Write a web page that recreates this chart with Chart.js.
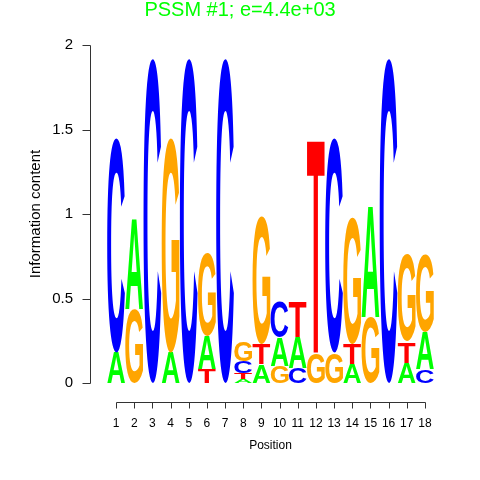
<!DOCTYPE html>
<html>
<head>
<meta charset="utf-8">
<title>PSSM #1 logo</title>
<script src="https://cdn.jsdelivr.net/npm/chart.js@4.4.0/dist/chart.umd.min.js"></script>
<style>
  html, body { margin: 0; padding: 0; background: #fff; }
  #wrap { width: 480px; height: 480px; }
</style>
</head>
<body>
<div id="wrap"><canvas id="logo" width="480" height="480"></canvas></div>
<script>
// --- data (information content per letter, bits) ---
const positions = ['1','2','3','4','5','6','7','8','9','10','11','12','13','14','15','16','17','18'];
const bitsA = [0.18, 0.54, 0, 0.18, 0, 0.20, 0, 0.025, 0.11, 0.17, 0.18, 0, 0, 0.115, 0.66, 0, 0.12, 0.22];
const bitsC = [1.27, 0, 1.92, 0, 1.92, 0, 1.92, 0.07, 0, 0.21, 0.09, 0, 1.27, 0, 0, 1.92, 0, 0.08];
const bitsG = [0, 0.44, 0, 1.27, 0, 0.49, 0, 0.115, 0.76, 0.10, 0, 0.18, 0.18, 0.745, 0.39, 0, 0.515, 0.46];
const bitsT = [0, 0, 0, 0, 0, 0.08, 0, 0.035, 0.12, 0, 0.21, 1.27, 0, 0.12, 0, 0, 0.125, 0];
const yTicks = [0, 0.5, 1, 1.5, 2];

const letterColor = { A: '#00ff00', C: '#0000ff', G: '#ffa500', T: '#ff0000' };

// each column is stacked smallest letter at the bottom
const columns = positions.map((_, i) =>
  [['A', bitsA[i]], ['C', bitsC[i]], ['G', bitsG[i]], ['T', bitsT[i]]]
    .filter(l => l[1] > 0)
    .sort((a, b) => a[1] - b[1])
);

// one stacked "layer" dataset per rank (bottom letter, second letter, ...)
const datasets = [0, 1, 2, 3].map(k => ({
  label: 'layer ' + (k + 1),
  data: columns.map(c => (c[k] ? c[k][1] : 0)),
  letters: columns.map(c => (c[k] ? c[k][0] : '')),
  backgroundColor: 'rgba(0,0,0,0)',
  borderWidth: 0
}));

// draws a glyph stretched to fill each bar box
const glyphs = {
  id: 'glyphs',
  afterDatasetsDraw(chart) {
    const ctx = chart.ctx;
    chart.data.datasets.forEach((ds, k) => {
      chart.getDatasetMeta(k).data.forEach((bar, i) => {
        const letter = ds.letters[i];
        const { x, y, base, width } = bar.getProps(['x', 'y', 'base', 'width'], true);
        const h = base - y;
        if (!letter || h < 0.5) return;
        ctx.save();
        ctx.font = 'bold 100px "Liberation Sans", Arial, sans-serif';
        ctx.textAlign = 'left';
        ctx.textBaseline = 'alphabetic';
        const m = ctx.measureText(letter);
        const gw = m.actualBoundingBoxLeft + m.actualBoundingBoxRight;
        const gh = m.actualBoundingBoxAscent + m.actualBoundingBoxDescent;
        const w = width * 0.98;
        ctx.translate(x - w / 2, y);
        ctx.scale(w / gw, h / gh);
        ctx.fillStyle = letterColor[letter];
        ctx.fillText(letter, m.actualBoundingBoxLeft, m.actualBoundingBoxAscent);
        ctx.restore();
      });
    });
  }
};

// R-style detached axes (lines + tick marks), placed from the chart scales
const rAxes = {
  id: 'rAxes',
  afterDraw(chart) {
    const { ctx, chartArea, scales: { x, y } } = chart;
    ctx.save();
    ctx.strokeStyle = '#333';
    ctx.lineWidth = 1;
    ctx.beginPath();
    const ax = chartArea.left - 17 + 0.5;
    ctx.moveTo(ax, Math.round(y.getPixelForValue(yTicks[0])) + 0.5);
    ctx.lineTo(ax, Math.round(y.getPixelForValue(yTicks[yTicks.length - 1])) + 0.5);
    yTicks.forEach(v => {
      const py = Math.round(y.getPixelForValue(v)) + 0.5;
      ctx.moveTo(ax, py);
      ctx.lineTo(ax - 8, py);
    });
    const ay = chartArea.bottom + 19 + 0.5;
    ctx.moveTo(Math.round(x.getPixelForValue(0)) + 0.5, ay);
    ctx.lineTo(Math.round(x.getPixelForValue(positions.length - 1)) + 0.5, ay);
    positions.forEach((_, i) => {
      const px = Math.round(x.getPixelForValue(i)) + 0.5;
      ctx.moveTo(px, ay);
      ctx.lineTo(px, ay + 6);
    });
    ctx.stroke();
    ctx.restore();
  }
};

Chart.defaults.font.family = '"Liberation Sans", Arial, Helvetica, sans-serif';
Chart.defaults.color = '#000';

new Chart(document.getElementById('logo'), {
  type: 'bar',
  data: { labels: positions, datasets },
  options: {
    responsive: false,
    animation: false,
    datasets: { bar: { barPercentage: 1, categoryPercentage: 1 } },
    plugins: {
      legend: { display: false },
      tooltip: { enabled: false },
      title: {
        display: true,
        text: 'PSSM #1; e=4.4e+03',
        color: '#00ff00',
        font: { size: 20, weight: 'normal', lineHeight: 1 },
        padding: { top: 0, bottom: 25 }
      }
    },
    scales: {
      x: {
        stacked: true,
        offset: true,
        grid: { display: false, drawTicks: false },
        border: { display: false },
        ticks: { autoSkip: false, maxRotation: 0, padding: 33, font: { size: 12 } },
        title: { display: true, text: 'Position', font: { size: 12 }, padding: { top: 27, bottom: 27 } },
        afterFit: s => { s.height = 97; }
      },
      y: {
        stacked: true,
        min: 0,
        max: 2,
        afterBuildTicks: s => { s.ticks = yTicks.map(v => ({ value: v })); },
        grid: { display: false, drawTicks: false },
        border: { display: false },
        ticks: { padding: 34, font: { size: 15 }, callback: v => String(v) },
        title: { display: true, text: 'Information content', font: { size: 15 }, padding: { top: 27 } },
        afterFit: s => { s.width = 107; }
      },
      // empty right margin so the title stays centred on the page
      right: {
        position: 'right',
        grid: { display: false, drawTicks: false },
        border: { display: false },
        ticks: { display: false },
        afterFit: s => { s.width = 46; }
      }
    }
  },
  plugins: [glyphs, rAxes]
});
</script>
</body>
</html>
